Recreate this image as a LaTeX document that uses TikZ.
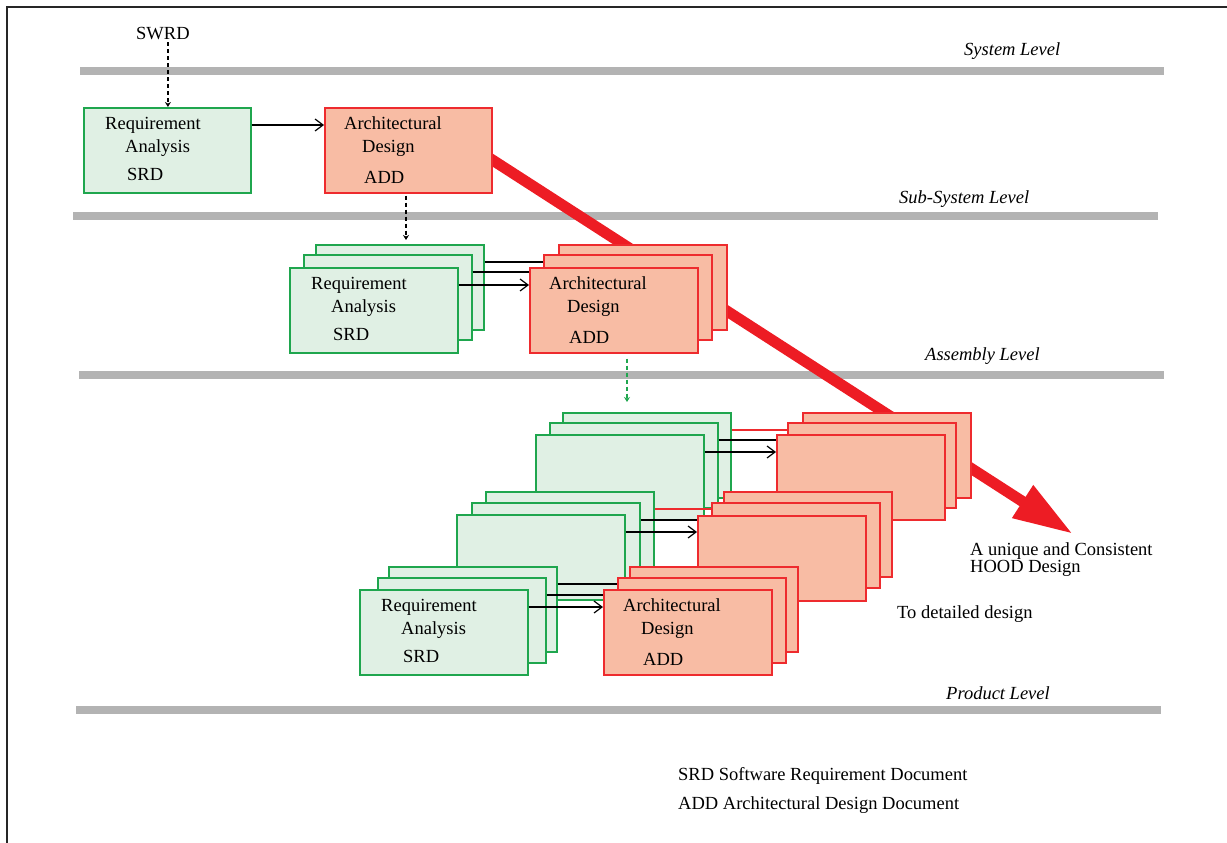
\documentclass[tikz,border=0pt]{standalone}
\usepackage{fontspec}
\setmainfont{Liberation Serif}
\usetikzlibrary{arrows.meta,calc}

\definecolor{gfill}{HTML}{E0F0E4}
\definecolor{gline}{HTML}{1FA64E}
\definecolor{rfill}{HTML}{F8BCA4}
\definecolor{rline}{HTML}{EE2B2E}
\definecolor{bigred}{HTML}{ED1C24}
\definecolor{barg}{HTML}{B3B3B3}

% one layer of a stack: green box, red box and the link between them
\newcommand\boxlayer[6]{% id, green x, green y, red x, red y, link style
  \node[gbox] (g#1) at (#2,#3) {};
  \node[rbox] (r#1) at (#4,#5) {};
  \draw[#6] ($(g#1.north east)+(0,18)$) coordinate (f#1) -- (f#1 -| r#1.west);}

\newcommand\reqlabels[1]{%
  \node[txt] (#1-t1) at ($(#1.north west)+(22,22)$) {Requirement};
  \node[txt] (#1-t2) at ($(#1.north west)+(42,45)$) {Analysis};
  \node[txt] (#1-t3) at ($(#1.north west)+(44,73)$) {SRD};}

\newcommand\archlabels[1]{%
  \node[txt] (#1-t1) at ($(#1.north west)+(20,22)$) {Architectural};
  \node[txt] (#1-t2) at ($(#1.north west)+(38,45)$) {Design};
  \node[txt] (#1-t3) at ($(#1.north west)+(40,76)$) {ADD};}

\begin{document}
\begin{tikzpicture}[x=1pt,y=-1pt,
  every node/.style={font=\fontsize{18.5}{20}\selectfont},
  gbox/.style={draw=gline, fill=gfill, line width=1.5pt, minimum width=168pt,
    minimum height=85pt, inner sep=0pt, anchor=north west},
  rbox/.style={draw=rline, fill=rfill, line width=1.5pt, minimum width=168pt,
    minimum height=85pt, inner sep=0pt, anchor=north west},
  txt/.style={inner sep=0pt, anchor=base west},
  lvl/.style={txt, font=\fontsize{18.5}{20}\selectfont\itshape},
  bar/.style={barg, line width=7.5pt},
  link/.style={line width=1.2pt},
  redlink/.style={line width=1.2pt, rline},
  flow/.style={line width=1.2pt, -{Straight Barb[length=8pt,width=12pt]}},
  dashflow/.style={line width=1.2pt, dash pattern=on 4pt off 3pt,
    -{Stealth[length=5pt,width=6pt]}},
  hood/.style={bigred, line width=11pt, -{Triangle[length=60pt,width=36pt]}},
]
\useasboundingbox (0,0) rectangle (1227,843);

% page frame
\draw[line width=1.8pt, black!85] (7,843) -- (7,7) -- (1227,7);

% level separators
\draw[bar] (80,71) -- (1164,71);
\draw[bar] (73,216) -- (1158,216);
\draw[bar] (79,375) -- (1164,375);
\draw[bar] (76,710) -- (1161,710);
\node[lvl] (lsys) at (964,56) {System Level};
\node[lvl] (lsub) at (899,203) {Sub-System Level};
\node[lvl] (lasm) at (925,360) {Assembly Level};
\node[lvl] (lprd) at (946,699) {Product Level};

% system level boxes
\node[gbox, minimum width=167pt] (g1) at (83,107) {};
\node[rbox, minimum width=167pt] (r1) at (324,107) {};

% convergence towards a single design, drawn below the boxes
\coordinate (hs) at ($(r1.north east)+(-21,39.5)$);
\coordinate (ht) at (1073,534);
\draw[hood] (hs) -- (ht);

\node[gbox, minimum width=167pt] (g1) at (83,107) {};
\node[rbox, minimum width=167pt] (r1) at (324,107) {};
\draw[flow] ($(g1.north east)+(0,18)$) coordinate (f1) -- (f1 -| r1.west);
\reqlabels{g1}
\archlabels{r1}

\node[txt] (swrd) at (136,40) {SWRD};
\draw[dashflow] ($(swrd.south)+(5,2)$) coordinate (d0) -- (d0 |- g1.north);

% sub-system level
\boxlayer{2k}{315}{244}{558}{244}{link}
\boxlayer{2m}{303}{254}{543}{254}{link}
\boxlayer{2f}{289}{267}{529}{267}{flow}
\reqlabels{g2f}
\archlabels{r2f}
\draw[dashflow, shorten >=4pt] ($(r1.south west)+(82,2)$) coordinate (d1) -- (d1 |- g2k.north);

% assembly level, three stacks
\boxlayer{ak}{562}{412}{802}{412}{redlink}
\boxlayer{am}{549}{422}{787}{422}{link}
\boxlayer{af}{535}{434}{776}{434}{flow}

\boxlayer{bk}{485}{491}{723}{491}{redlink}
\boxlayer{bm}{471}{502}{711}{502}{link}
\boxlayer{bf}{456}{514}{697}{515}{flow}

\boxlayer{ck}{388}{566}{629}{566}{link}
\boxlayer{cm}{377}{577}{617}{577}{link}
\boxlayer{cf}{359}{589}{603}{589}{flow}
\reqlabels{gcf}
\archlabels{rcf}

\draw[dashflow, gline, shorten <=5pt, shorten >=10pt] ($(r2f.south west)+(98,0)$) coordinate (d2) -- (d2 |- gak.north);

% result and legend
\node[txt] (hood1) at (970,555) {A unique and Consistent};
\node[txt] (hood2) at (970,572) {HOOD Design};
\node[txt] (detail) at (897,618) {To detailed design};
\node[txt] (leg1) at (678,780) {SRD Software Requirement Document};
\node[txt] (leg2) at (678,809) {ADD Architectural Design Document};
\end{tikzpicture}
\end{document}
